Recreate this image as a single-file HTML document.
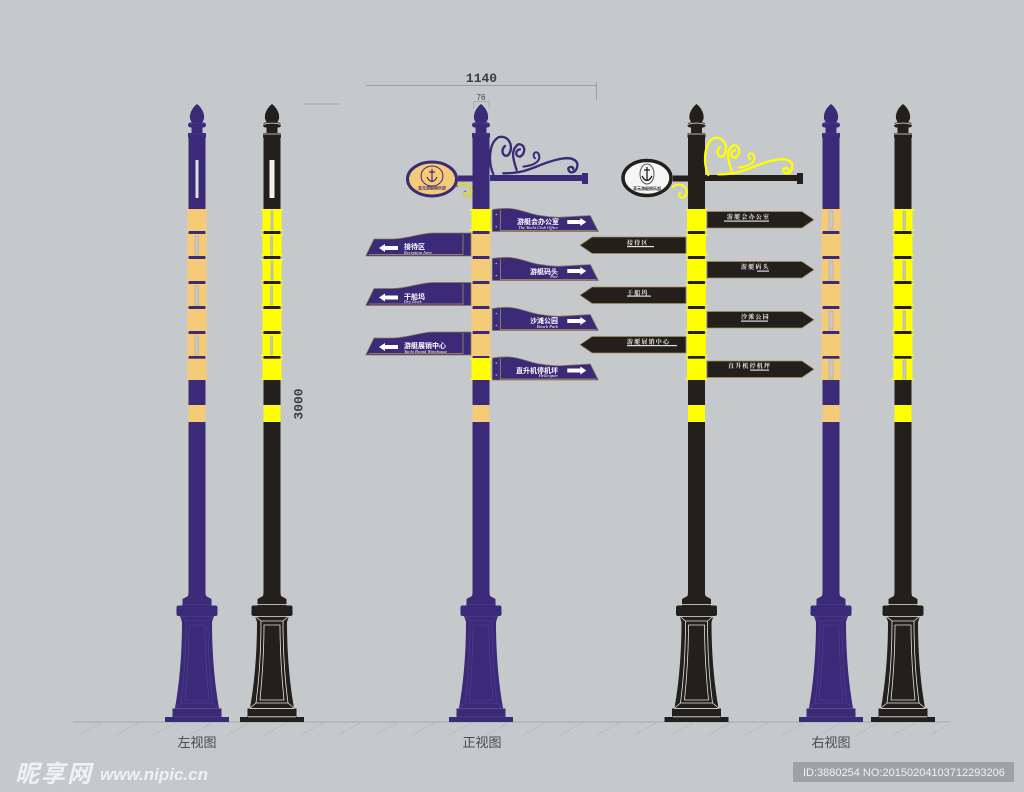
<!DOCTYPE html>
<html><head><meta charset="utf-8">
<style>
html,body{margin:0;padding:0;background:#c6c9cc}
svg{display:block}
.d{fill:var(--d)}.b{fill:var(--b)}
.l{fill:none;stroke:var(--l);stroke-width:.8}
text{font-family:"Liberation Sans","Noto Sans CJK SC",sans-serif}
.cn{fill:#fff;font-size:7px;font-weight:bold}
.en{fill:#fff;font-size:4.5px;font-style:italic;font-family:"Liberation Serif",serif}
.bk{fill:#eee;font-size:6px;font-weight:bold;letter-spacing:1.2px;font-family:"Liberation Serif","Noto Serif CJK SC",serif}
.cap{fill:#4a4a4a;font-size:13px;text-anchor:middle}
.dim{font-family:"Liberation Mono",monospace;font-size:13px;font-weight:bold;fill:#3c3c3c;text-anchor:middle}
</style></head><body>
<svg width="1024" height="792" viewBox="0 0 1024 792" xmlns="http://www.w3.org/2000/svg">
<defs>
<pattern id="h" width="37" height="16" patternUnits="userSpaceOnUse" x="73" y="722">
<line x1="28" y1="1" x2="6" y2="13" stroke="#a9acaf" stroke-width=".6" stroke-dasharray="3 1.5"/>
</pattern>
<g id="band">
<rect class="b" x="-9.5" y="0" width="19" height="22"/>
<rect class="b" x="-11" y="0" width="22" height="1.6" rx=".8"/>
<rect class="b" x="-11" y="20.4" width="22" height="1.6" rx=".8"/>
</g>
<g id="pole">
<path class="d" d="M0,104C-4,107 -8,113 -7,119L-5,123L5,123L7,119C8,113 4,107 0,104Z"/>
<rect class="d" x="-9" y="122.500" width="18" height="5" rx="2.500"/>
<rect class="d" x="-5.500" y="127" width="11" height="7"/>
<rect class="d" x="-9" y="133" width="18" height="4.500"/>
<path class="l" d="M-9,124.500Q0,121.500 9,124.500M-9,134H9"/>
<rect class="d" x="-8.500" y="137" width="17" height="72"/>
<rect class="d" x="-8" y="229" width="16" height="132"/>
<rect class="d" x="-8.500" y="379" width="17" height="219"/>
<use href="#band" y="209"/><use href="#band" y="234"/><use href="#band" y="259"/>
<use href="#band" y="284"/><use href="#band" y="309"/><use href="#band" y="334"/><use href="#band" y="358"/>
<rect class="d" x="-8.500" y="231.500" width="17" height="2.200"/><rect class="d" x="-8.500" y="256.500" width="17" height="2.200"/>
<rect class="d" x="-8.500" y="281.500" width="17" height="2.200"/><rect class="d" x="-8.500" y="306.500" width="17" height="2.200"/>
<rect class="d" x="-8.500" y="331.500" width="17" height="2.200"/><rect class="d" x="-8.500" y="356.500" width="17" height="2.200"/>
<rect class="b" x="-8.500" y="405" width="17" height="17"/>
<path class="d" d="M-8,590L-9,596L-14.500,599L-14.500,606L14.500,606L14.500,599L9,596L8,590Z"/>
<rect class="d" x="-20.500" y="605.500" width="41" height="10.500" rx="2"/>
<path class="d" d="M-17,616L-15,622C-15,650 -17,680 -22,708L22,708C17,680 15,650 15,622L17,616Z"/>
<rect class="d" x="-24.500" y="708.500" width="49" height="8.500"/>
<rect class="d" x="-32" y="717" width="64" height="5"/>
<path class="l" d="M-15,604.500H15M-17,616.500H17M-22,708.500H22M-24,716.800H24M-11,621H11V622C11,650 13,680 16,703H-16C-13,680 -11,650 -11,622ZM-17,616L-11,621M17,616L11,621M-22,708L-16,703M22,708L16,703M-8,625H8C8,650 10,680 12,700H-12C-10,680 -8,650 -8,625Z"/>
</g>
<g id="scroll" fill="none" stroke-linecap="round">
<path stroke-width="7" d="M400,342C385,310 385,250 415,232C445,222 465,260 445,285C430,295 420,270 435,258"/>
<path stroke-width="7" d="M470,330C460,300 450,270 475,253C495,250 500,280 480,290C465,290 465,270 480,268"/>
<path stroke-width="7" d="M430,340C500,340 520,320 570,305C600,295 640,285 652,310C655,340 625,345 625,325C630,318 640,320 640,328"/>
<path stroke-width="6" d="M490,320C530,315 545,300 535,280C525,270 515,285 525,295"/>
<path stroke-width="6" d="M292,378C310,365 335,370 335,395C330,420 305,410 315,395"/>
</g>
<g id="sr">
<path fill="#3a2a78" stroke="#8c7a58" stroke-width=".8" d="M0,0C8,-1 14,-1.500 18,-1C30,0 38,5 48,6C56,7 60,8 68,7.700L98,6L106,22L0,22Z"/>
<path fill="none" stroke="#b09a5c" stroke-width=".7" d="M8,0V21H104"/>
<circle cx="4" cy="5" r=".8" fill="#bbb"/><circle cx="4" cy="17" r=".8" fill="#bbb"/>
<path fill="#fff" d="M75,10.500H88V8.500L94,12.500L88,16.500V14.500H75Z"/>
</g>
<g id="sl">
<path fill="#3a2a78" stroke="#8c7a58" stroke-width=".8" d="M0,22.500L8,6L27,6C40,6 55,0 67,0L105,0V23H0Z"/>
<path fill="none" stroke="#b09a5c" stroke-width=".7" d="M3,21.500H97V1"/>
<path fill="#fff" d="M32,13H19V11L13,15L19,19V17H32Z"/>
</g>
<polygon id="br" points="0,0 95,0 107,8.200 95,16.500 0,16.500" fill="#231f1a" stroke="#a58c5c" stroke-width=".8"/>
<polygon id="bl" points="106,0 12,0 0,8.200 12,16.500 106,16.500" fill="#231f1a" stroke="#a58c5c" stroke-width=".8"/>
</defs>

<rect width="1024" height="792" fill="#c6c9cc"/>

<rect x="73" y="722" width="877" height="16" fill="url(#h)"/>
<line x1="73" y1="722" x2="950" y2="722" stroke="#9a9c9e" stroke-width=".8"/>

<use href="#pole" x="197" style="--d:#3a2a78;--b:#f5cb78;--l:#4b3d8a"/>
<use href="#pole" x="272" style="--d:#231f1a;--b:#ffff00;--l:#e6e6e6"/>
<use href="#pole" x="481" style="--d:#3a2a78;--b:#f5cb78;--l:#4b3d8a"/>
<use href="#pole" x="696.500" style="--d:#231f1a;--b:#ffff00;--l:#e6e6e6"/>
<use href="#pole" x="831" style="--d:#3a2a78;--b:#f5cb78;--l:#4b3d8a"/>
<use href="#pole" x="903" style="--d:#231f1a;--b:#ffff00;--l:#e6e6e6"/>

<rect x="195.500" y="160" width="3" height="38" fill="#dfe0e0"/>
<rect x="269.500" y="160" width="5" height="38" fill="#f2f2f2"/>
<g fill="#c6c9cc" stroke="#9a9a9a" stroke-width=".4">
<rect x="195" y="236" width="3.500" height="19"/><rect x="195" y="286" width="3.500" height="19"/><rect x="195" y="336" width="3.500" height="19"/>
<rect x="270.500" y="236" width="2" height="19"/><rect x="270.500" y="286" width="2" height="19"/><rect x="270.500" y="336" width="2" height="19"/>
<rect x="271" y="211" width="2" height="19"/><rect x="271" y="261" width="2" height="19"/>
<rect x="829" y="211" width="4" height="19"/><rect x="829" y="261" width="4" height="19"/><rect x="829" y="311" width="4" height="19"/><rect x="829" y="360" width="4" height="19"/>
<rect x="903" y="211" width="2.500" height="19"/><rect x="903" y="261" width="2.500" height="19"/><rect x="903" y="311" width="2.500" height="19"/><rect x="903" y="360" width="3" height="19"/>
</g>

<g fill="#ffff00">
<rect x="471.500" y="209" width="19" height="22"/><rect x="470" y="209" width="22" height="1.600"/><rect x="470" y="229.400" width="22" height="1.600"/>
<rect x="471.500" y="358" width="19" height="22"/><rect x="470" y="358" width="22" height="1.600"/><rect x="470" y="378.400" width="22" height="1.600"/>
</g>

<rect x="458" y="175.500" width="15" height="6" fill="#3a2a78"/>
<rect x="490" y="175" width="92" height="6" fill="#3a2a78"/>
<rect x="582" y="173" width="6" height="11" fill="#3a2a78"/>
<g transform="translate(360,60) scale(.3333)"><use href="#scroll" stroke="#3a2a78"/></g>
<path transform="translate(360,60) scale(.3333)" fill="none" stroke="#e6e020" stroke-width="6" d="M292,378C310,365 335,370 335,395C330,420 305,410 315,395"/>
<ellipse cx="432" cy="179" rx="24.500" ry="17" fill="#f5cb78" stroke="#3a2a78" stroke-width="3"/>
<ellipse cx="432" cy="176" rx="11" ry="10" fill="none" stroke="#3a2a78" stroke-width="1"/>
<path d="M432,169V182M427,177Q432,186 437,177M429,172H435" fill="none" stroke="#3a2a78" stroke-width="1.200"/>
<text x="432" y="189.500" font-size="4" text-anchor="middle" fill="#3a2a78" font-weight="bold">真元游艇俱乐部</text>

<rect x="673" y="175.500" width="15" height="6" fill="#231f1a"/>
<rect x="705" y="175" width="92" height="6" fill="#231f1a"/>
<rect x="797" y="173" width="6" height="11" fill="#231f1a"/>
<g transform="translate(575,61) scale(.3333)"><use href="#scroll" stroke="#ffff00"/></g>
<ellipse cx="647" cy="178" rx="24" ry="17.500" fill="#f6f6f6" stroke="#231f1a" stroke-width="3.500"/>
<ellipse cx="647" cy="174" rx="7" ry="10" fill="none" stroke="#555" stroke-width="1"/>
<path d="M647,167V181M642,176Q647,185 652,176M644,170H650" fill="none" stroke="#231f1a" stroke-width="1.300"/>
<text x="647" y="190" font-size="4" text-anchor="middle" fill="#231f1a" font-weight="bold">真元游艇俱乐部</text>

<use href="#sr" x="492.300" y="209.500"/>
<use href="#sr" x="492.300" y="258.500"/>
<use href="#sr" x="492.300" y="308.500"/>
<use href="#sr" x="492.300" y="358"/>
<use href="#sl" x="366" y="233"/>
<use href="#sl" x="366" y="282.500"/>
<use href="#sl" x="366" y="332"/>
<g text-anchor="end">
<text class="cn" x="559" y="224">游艇会办公室</text>
<text class="cn" x="558" y="274">游艇码头</text>
<text class="cn" x="558" y="323">沙滩公园</text>
<text class="cn" x="558" y="373">直升机停机坪</text>
<text class="en" x="558" y="229">The Yacht Club Office</text>
<text class="en" x="558" y="278">Pier</text>
<text class="en" x="558" y="328">Beach Park</text>
<text class="en" x="558" y="377">Helicopter</text>
</g>
<text class="cn" x="404" y="249">接待区</text><text class="en" x="404" y="254">Reception Area</text>
<text class="cn" x="404" y="299">干船坞</text><text class="en" x="404" y="303">Dry Dock</text>
<text class="cn" x="404" y="348">游艇展销中心</text><text class="en" x="404" y="353">Yacht Brand Warehouse</text>

<use href="#br" x="707" y="211.500"/><use href="#br" x="707" y="261.500"/><use href="#br" x="707" y="311.500"/><use href="#br" x="707" y="361"/>
<use href="#bl" x="580" y="237"/><use href="#bl" x="580" y="287"/><use href="#bl" x="580" y="336.500"/>
<text class="bk" x="727" y="219">游艇会办公室</text><rect x="724" y="220.500" width="45" height="1.200" fill="#ddd"/>
<text class="bk" x="741" y="269">游艇码头</text><rect x="757" y="270.500" width="12" height="1.200" fill="#ddd"/>
<text class="bk" x="741" y="319">沙滩公园</text><rect x="741" y="320.500" width="27" height="1.200" fill="#ddd"/>
<text class="bk" x="728" y="368">直升机停机坪</text><rect x="750" y="369.500" width="19" height="1.200" fill="#ddd"/>
<text class="bk" x="627" y="245">接待区</text><rect x="627" y="246" width="27" height="1.200" fill="#ddd"/>
<text class="bk" x="627" y="295">干船坞</text><rect x="627" y="295.500" width="24" height="1.200" fill="#ddd"/>
<text class="bk" x="627" y="344">游艇展销中心</text><rect x="627" y="345" width="50" height="1.200" fill="#ddd"/>

<text class="dim" x="481.500" y="82">1140</text>
<path d="M366,85.500H597M596.500,82V100" stroke="#8e9092" stroke-width=".7" fill="none"/>
<text x="481" y="100" font-size="8" text-anchor="middle" fill="#444">76</text>
<path d="M473.500,108V101.500H489V108" stroke="#8e9092" stroke-width=".5" fill="none"/>
<line x1="304" y1="104" x2="341" y2="104" stroke="#9a9c9e" stroke-width=".7"/>
<text class="dim" transform="translate(302.500,404) rotate(-90)" x="0" y="0">3000</text>

<text class="cap" x="197" y="747">左视图</text>
<text class="cap" x="482" y="747">正视图</text>
<text class="cap" x="831" y="747">右视图</text>

<text x="15" y="782" font-size="24" font-weight="bold" font-style="italic" fill="#f0f1f2" letter-spacing="2">昵享网</text>
<text x="100" y="780" font-size="17" font-weight="bold" font-style="italic" fill="#f0f1f2">www.nipic.cn</text>
<rect x="793" y="762" width="221" height="20" fill="#9fa2a4"/>
<text x="803" y="776" font-size="11" fill="#f2f2f2">ID:3880254 NO:20150204103712293206</text>
</svg>
</body></html>
